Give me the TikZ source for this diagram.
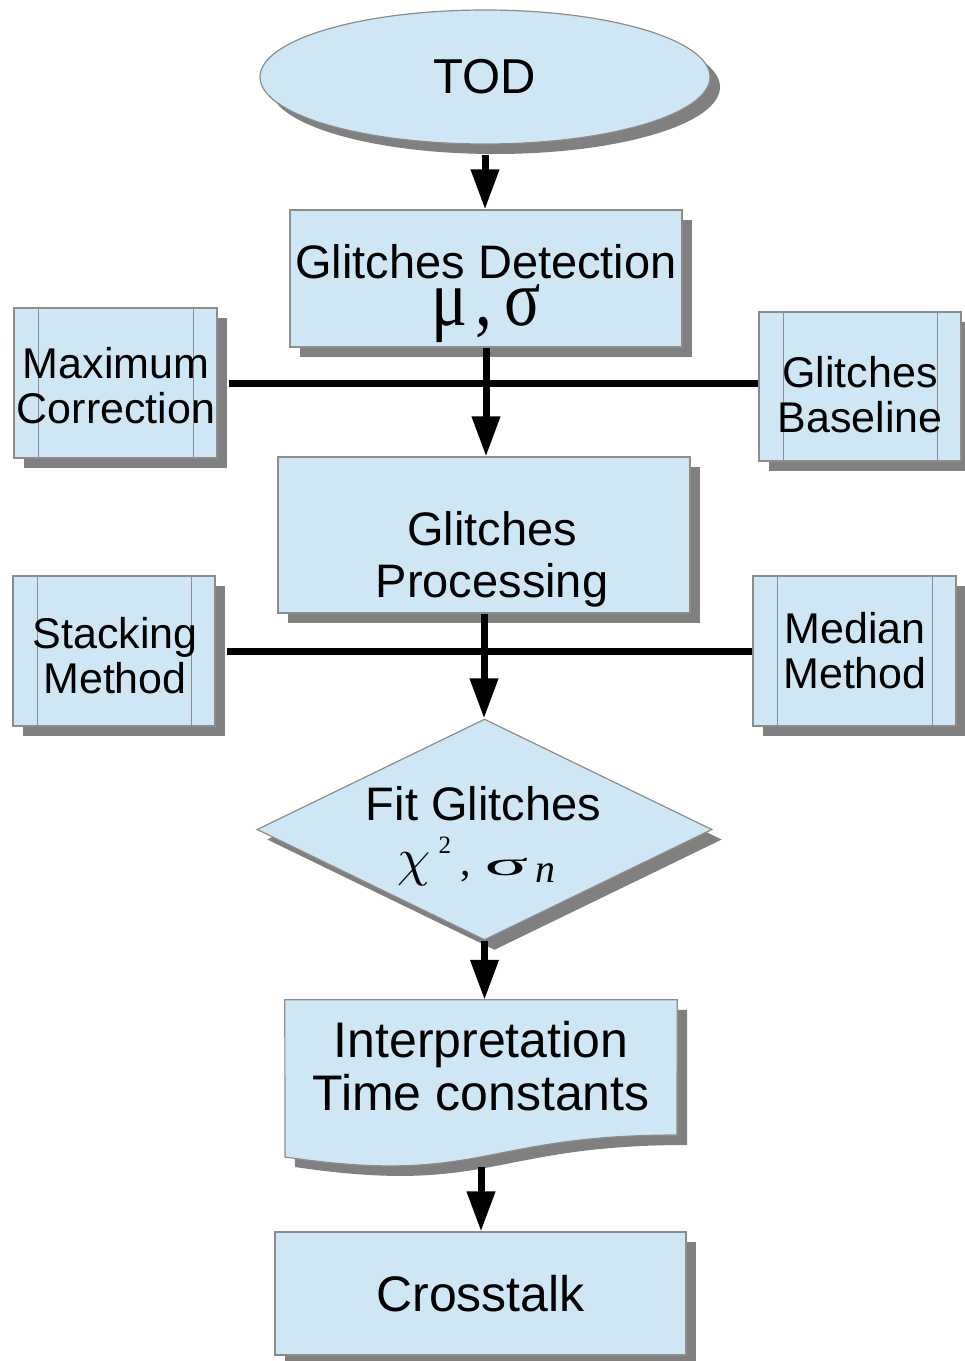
\documentclass[tikz,border=0pt]{standalone}
\usepackage{fontspec}
\setmainfont{Liberation Sans}
\newfontfamily\serifgk{Liberation Serif}
\usepackage{graphicx}
\usetikzlibrary{shapes.geometric,shadows,arrows.meta}
\definecolor{boxfill}{HTML}{CFE7F5}
\definecolor{shadowgray}{HTML}{808080}
\definecolor{edgegray}{HTML}{8C8C8C}
\tikzset{
  shad/.style={drop shadow={shadow xshift=10pt,shadow yshift=-10pt,fill=shadowgray,opacity=1}},
  flowbox/.style={rectangle,draw=edgegray,line width=1.2pt,fill=boxfill,shad,inner sep=0pt},
  procbox/.style={flowbox,path picture={
      \draw[edgegray,line width=1pt]
        ([xshift=24pt]path picture bounding box.north west) -- ([xshift=24pt]path picture bounding box.south west)
        ([xshift=-24pt]path picture bounding box.north east) -- ([xshift=-24pt]path picture bounding box.south east);}},
  conn/.style={line width=7pt,black},
  arr/.style={conn,-{Triangle[width=27pt,length=40pt]}},
  lbl/.style={anchor=base,inner sep=0pt},
  sidelbl/.style={lbl,font=\fontsize{43}{45}\selectfont},
}
\begin{document}
\begin{tikzpicture}[x=1pt,y=-1pt]
\useasboundingbox (0,0) rectangle (965,1361);

% main column
\node[ellipse,draw=edgegray,line width=1.2pt,fill=boxfill,shad,minimum width=450pt,minimum height=134pt,inner sep=0pt,font=\fontsize{49}{49}\selectfont] (tod) at (485,77) {TOD};

\node[flowbox,minimum width=392pt,minimum height=137pt] (det) at (486,278.5) {};
\node[lbl,font=\fontsize{47}{47}\selectfont] (detT) at (486,325) {\begin{tabular}[b]{@{}c@{}}Glitches Detection\\ \smash{\serifgk\fontsize{64}{64}\selectfont\scalebox{1.05}[1.25]{μ\hspace{8pt},\hspace{11pt}σ}}\end{tabular}};

\node[flowbox,minimum width=412pt,minimum height=156pt] (proc) at (484,535) {};
\node[lbl,font=\fontsize{47}{52}\selectfont] (procT) at (492,597) {\begin{tabular}[b]{@{}c@{}}Glitches\\Processing\end{tabular}};

\node[diamond,draw=edgegray,line width=1.2pt,fill=boxfill,shad,minimum width=455pt,minimum height=221pt,inner sep=0pt] (fit) at (484.5,829.5) {};
\node[lbl,font=\fontsize{47}{55}\selectfont] (fitT) at (483.5,875) {\begin{tabular}[b]{@{}c@{}}Fit Glitches\\ \smash{{\normalsize\scalebox{5.3}{$\chi$}}\hspace{8pt}\raisebox{22pt}{\serifgk\fontsize{25}{25}\selectfont 2}\hspace{9pt}{\serifgk\fontsize{42}{42}\selectfont ,}\hspace{14pt}\scalebox{1.4}[0.58]{\serifgk\fontsize{58}{58}\selectfont σ}\hspace{7pt}\raisebox{-7pt}{\serifgk\itshape\fontsize{40}{40}\selectfont n}\hspace{14pt}}\end{tabular}};

% document shape
\node[minimum width=392pt,minimum height=168pt,inner sep=0pt] (interp) at (481,1084) {};
\path[draw=edgegray,line width=1.2pt,fill=boxfill,shad]
  (interp.north west) -- (interp.north east) -- (677,1135) .. controls (481,1135) and (481,1186) .. (285,1157) -- cycle;
\node[lbl,font=\fontsize{50}{53}\selectfont] (interpT) at (481,1110) {\begin{tabular}[b]{@{}c@{}}Interpretation\\Time constants\end{tabular}};
\coordinate (docb) at (481,1167);

\node[flowbox,minimum width=411pt,minimum height=123pt,font=\fontsize{50}{50}\selectfont] (cross) at (480.5,1293.5) {Crosstalk};

% side boxes
\node[procbox,minimum width=203pt,minimum height=150pt] (maxc) at (115.5,383) {};
\node[sidelbl] (maxcT) at (116,423) {\begin{tabular}[b]{@{}c@{}}Maximum\\Correction\end{tabular}};

\node[procbox,minimum width=202pt,minimum height=149pt] (gbase) at (860,386.5) {};
\node[sidelbl] (gbaseT) at (860,432) {\begin{tabular}[b]{@{}c@{}}Glitches\\Baseline\end{tabular}};

\node[procbox,minimum width=202pt,minimum height=150pt] (stack) at (114,651) {};
\node[sidelbl] (stackT) at (115,693) {\begin{tabular}[b]{@{}c@{}}Stacking\\Method\end{tabular}};

\node[procbox,minimum width=203pt,minimum height=150pt] (median) at (854.5,651) {};
\node[sidelbl] (medianT) at (855,688) {\begin{tabular}[b]{@{}c@{}}Median\\Method\end{tabular}};

% connectors
\draw[conn] ([xshift=11pt]maxc.east) -- (maxc.east -| gbase.west);
\draw[conn] ([xshift=11pt]stack.east) -- (stack.east -| median.west);
\draw[arr] ([yshift=-10pt]tod.south) -- (tod.south |- det.north);
\draw[arr] (det.south) -- (det.south |- proc.north);
\draw[arr] (proc.south) -- (proc.south |- fit.north);
\draw[arr] (fit.south) -- (fit.south |- interp.north);
\draw[arr] (docb) -- (docb |- cross.north);
\end{tikzpicture}
\end{document}
